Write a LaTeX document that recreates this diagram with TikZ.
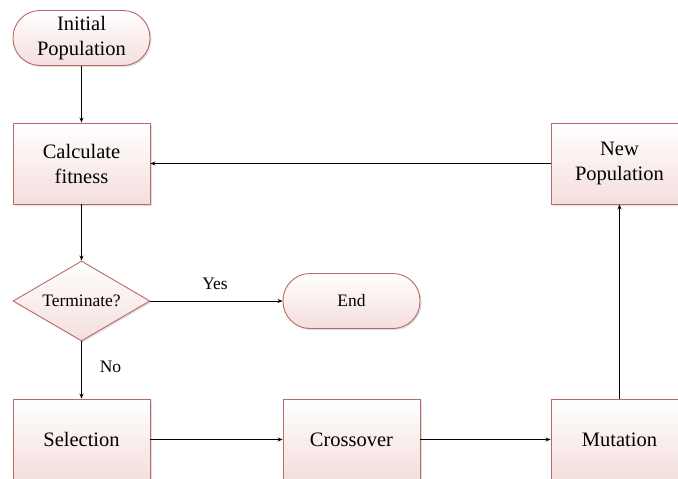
\documentclass[tikz,border=0pt]{standalone}
\usepackage{fontspec}
\setmainfont{Liberation Serif}
\usetikzlibrary{shapes.geometric,arrows.meta,shadows}
\definecolor{edgered}{HTML}{B86A68}
\definecolor{fillpink}{HTML}{F4DEDD}
\tikzset{
  base/.style={draw=edgered, line width=0.9pt, top color=white, bottom color=fillpink,
    drop shadow={shadow xshift=1.5pt, shadow yshift=-1.5pt, opacity=0.25, fill=gray},
    align=center, inner sep=0pt, font=\fontsize{20.5}{25}\selectfont},
  procbox/.style={base, rectangle, minimum width=137pt, minimum height=81pt},
  termbox/.style={base, rectangle, rounded corners=27pt, minimum width=137pt, minimum height=55pt},
  decbox/.style={base, diamond, minimum width=137pt, minimum height=80pt, aspect=1.7, font=\fontsize{17.5}{21}\selectfont},
  conn/.style={-{Stealth[length=5pt,width=4pt]}, line width=0.8pt, black},
  lbl/.style={font=\fontsize{17.5}{21}\selectfont, inner sep=0pt}
}
\begin{document}
\begin{tikzpicture}[x=1pt,y=-1pt]
\clip (0,0) rectangle (678,479);
\fill[white] (0,0) rectangle (678,479);
\node[termbox] (init) at (81.5,38) {Initial\\Population};
\node[procbox] (calc) at (81.5,163.5) {Calculate\\fitness};
\node[decbox] (term) at (81.5,301) {Terminate?};
\node[termbox, font=\fontsize{17.5}{21}\selectfont] (end) at (351.5,301) {End};
\node[procbox] (sel) at (81.5,439.5) {Selection};
\node[procbox] (cross) at (351.5,439.5) {Crossover};
\node[procbox] (mut) at (619.5,439.5) {Mutation};
\node[procbox] (newp) at (619.5,163.5) {New\\Population};
\draw[conn] (init) -- (calc);
\draw[conn] (calc) -- (term);
\draw[conn] (term) -- (end);
\draw[conn] (term) -- (sel);
\draw[conn] (sel) -- (cross);
\draw[conn] (cross) -- (mut);
\draw[conn] (mut) -- (newp);
\draw[conn] (newp) -- (calc);
\node[lbl] (yes) at (215,284) {Yes};
\node[lbl] (no) at (110.5,367) {No};
\end{tikzpicture}
\end{document}
